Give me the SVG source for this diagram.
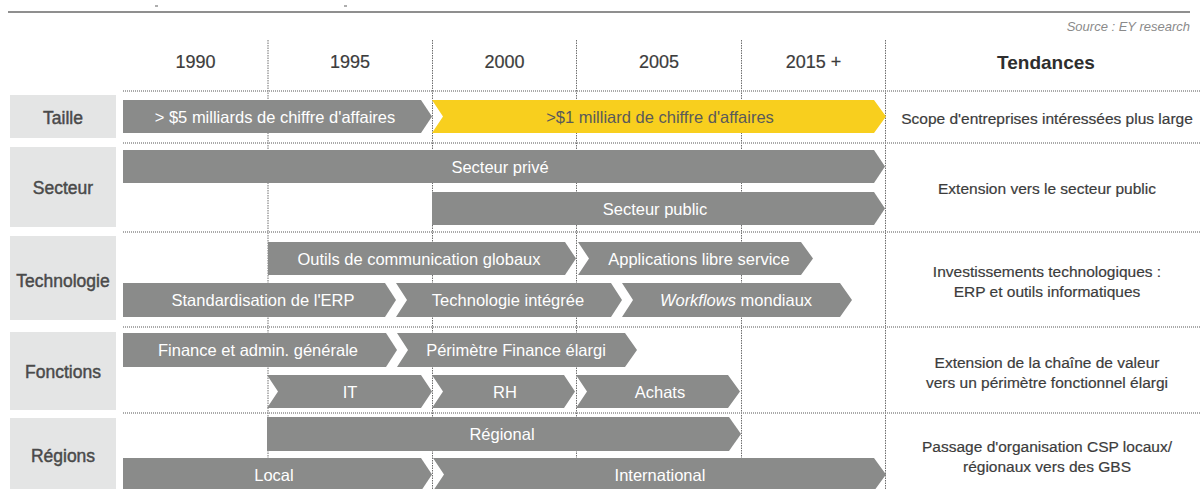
<svg xmlns="http://www.w3.org/2000/svg" width="1201" height="489" viewBox="0 0 1201 489">
<style>
text{font-family:"Liberation Sans",Arial,sans-serif}
.bg{fill:#ffffff}
.grid{stroke:#6e6e6e;stroke-width:1;stroke-dasharray:1.5 1;fill:none}
.sep{stroke:#8f8f8f;stroke-width:1.6;stroke-dasharray:1 1;fill:none}
.lbl{fill:#e4e5e5}
.lt{font-size:17.5px;fill:#4a4a4a;stroke:#4a4a4a;stroke-width:0.45;text-anchor:middle}
.yr{font-size:18px;fill:#3c3c3c;stroke:#3c3c3c;stroke-width:0.2;text-anchor:middle}
.tend{font-size:19px;fill:#2e2e2e;text-anchor:middle;font-weight:bold}
.ar{fill:#8a8b8a}
.ay{fill:#f8cf1e}
.at{font-size:16.5px;fill:#ffffff;text-anchor:middle}
.aty{font-size:16.5px;fill:#5a5a5a;text-anchor:middle}
.rt{font-size:15.5px;fill:#3c3c3c;stroke:#3c3c3c;stroke-width:0.2;text-anchor:middle}
.src{font-size:13px;fill:#8a8a8a;text-anchor:end;font-style:italic}
</style>
<rect class="bg" x="0" y="0" width="1201" height="489"/>

<g id="frame">
<line x1="8" y1="12" x2="1190" y2="12" stroke="#8f8f8f" stroke-width="1.8"/>
<line x1="155" y1="6" x2="158" y2="6" stroke="#777" stroke-width="1.2"/>
<line x1="344" y1="6" x2="347" y2="6" stroke="#777" stroke-width="1.2"/>
<text class="src" x="1190" y="31">Source : EY research</text>
</g>

<g id="grid">
<line class="grid" x1="268" y1="40" x2="268" y2="489"/>
<line class="grid" x1="432.5" y1="40" x2="432.5" y2="489"/>
<line class="grid" x1="576.5" y1="40" x2="576.5" y2="489"/>
<line class="grid" x1="741.5" y1="40" x2="741.5" y2="489"/>
<line class="grid" x1="885.5" y1="40" x2="885.5" y2="489"/>
<line class="sep" x1="123" y1="91" x2="1201" y2="91"/>
<line class="sep" x1="123" y1="143" x2="1201" y2="143"/>
<line class="sep" x1="123" y1="232" x2="1201" y2="232"/>
<line class="sep" x1="123" y1="327" x2="1201" y2="327"/>
<line class="sep" x1="123" y1="413" x2="1201" y2="413"/>
</g>

<g id="header">
<text class="yr" x="195.5" y="67.5">1990</text>
<text class="yr" x="350" y="67.5">1995</text>
<text class="yr" x="504.5" y="67.5">2000</text>
<text class="yr" x="659" y="67.5">2005</text>
<text class="yr" x="813.5" y="67.5">2015 +</text>
<text class="tend" x="1046" y="69">Tendances</text>
</g>

<g id="row-taille">
<rect class="lbl" x="10" y="95" width="106" height="43"/>
<text class="lt" x="63" y="124">Taille</text>
</g>
<g id="row-secteur">
<rect class="lbl" x="10" y="147" width="106" height="80"/>
<text class="lt" x="63" y="194">Secteur</text>
</g>
<g id="row-technologie">
<rect class="lbl" x="10" y="236" width="106" height="84"/>
<text class="lt" x="63" y="287">Technologie</text>
</g>
<g id="row-fonctions">
<rect class="lbl" x="10" y="332" width="106" height="78"/>
<text class="lt" x="63" y="378">Fonctions</text>
</g>
<g id="row-regions">
<rect class="lbl" x="10" y="418" width="106" height="71"/>
<text class="lt" x="63" y="462">Régions</text>
</g>

<g id="arrow-5milliards">
<polygon class="ar" points="123,100 421,100 432,116.5 421,133 123,133"/>
<text class="at" x="275" y="122.5">&gt; $5 milliards de chiffre d'affaires</text>
</g>
<g id="arrow-1milliard">
<polygon class="ay" points="432,100 874,100 886,116.5 874,133 432,133 443,116.5"/>
<text class="aty" x="660" y="122.5">&gt;$1 milliard de chiffre d'affaires</text>
</g>
<g id="arrow-prive">
<polygon class="ar" points="123,150 874,150 885,166.5 874,183 123,183"/>
<text class="at" x="500" y="172.5">Secteur privé</text>
</g>
<g id="arrow-public">
<polygon class="ar" points="432,192 874,192 885,208.5 874,225 432,225"/>
<text class="at" x="655" y="214.5">Secteur public</text>
</g>
<g id="arrow-outils">
<polygon class="ar" points="268,242 565,242 576,258.5 565,275 268,275"/>
<text class="at" x="419" y="264.5">Outils de communication globaux</text>
</g>
<g id="arrow-applications">
<polygon class="ar" points="578,242 801,242 813,258.5 801,275 578,275 589,258.5"/>
<text class="at" x="699" y="264.5">Applications libre service</text>
</g>
<g id="arrow-erp">
<polygon class="ar" points="123,283 385,283 396,300 385,317 123,317"/>
<text class="at" x="263" y="306">Standardisation de l'ERP</text>
</g>
<g id="arrow-integree">
<polygon class="ar" points="396,283 611,283 622,300 611,317 396,317 407,300"/>
<text class="at" x="508" y="306">Technologie intégrée</text>
</g>
<g id="arrow-workflows">
<polygon class="ar" points="622,283 840,283 852,300 840,317 622,317 633,300"/>
<text class="at" x="736" y="306"><tspan font-style="italic">Workflows</tspan> mondiaux</text>
</g>
<g id="arrow-finance">
<polygon class="ar" points="123,333 386,333 397,350 386,367 123,367"/>
<text class="at" x="258" y="356">Finance et admin. générale</text>
</g>
<g id="arrow-perimetre">
<polygon class="ar" points="397,333 625,333 637,350 625,367 397,367 408,350"/>
<text class="at" x="516" y="356">Périmètre Finance élargi</text>
</g>
<g id="arrow-it">
<polygon class="ar" points="267,375 421,375 432,391.5 421,408 267,408 278,391.5"/>
<text class="at" x="350" y="397.5">IT</text>
</g>
<g id="arrow-rh">
<polygon class="ar" points="432,375 564,375 575,391.5 564,408 432,408 443,391.5"/>
<text class="at" x="505" y="397.5">RH</text>
</g>
<g id="arrow-achats">
<polygon class="ar" points="576,375 728,375 740,391.5 728,408 576,408 587,391.5"/>
<text class="at" x="660" y="397.5">Achats</text>
</g>
<g id="arrow-regional">
<polygon class="ar" points="267,417 729,417 741,434 729,451 267,451"/>
<text class="at" x="502" y="440">Régional</text>
</g>
<g id="arrow-local">
<polygon class="ar" points="123,458 421,458 432,474.5 421,491 123,491"/>
<text class="at" x="274" y="480.5">Local</text>
</g>
<g id="arrow-international">
<polygon class="ar" points="433,458 874,458 886,474.5 874,491 433,491 444,474.5"/>
<text class="at" x="660" y="480.5">International</text>
</g>

<g id="tendances">
<text class="rt" x="1047" y="123.5">Scope d'entreprises intéressées plus large</text>
<text class="rt" x="1047" y="193.5">Extension vers le secteur public</text>
<text class="rt" x="1047" y="276.5">Investissements technologiques :</text>
<text class="rt" x="1047" y="296.5">ERP et outils informatiques</text>
<text class="rt" x="1047" y="367.5">Extension de la chaîne de valeur</text>
<text class="rt" x="1047" y="387.5">vers un périmètre fonctionnel élargi</text>
<text class="rt" x="1047" y="451.5">Passage d'organisation CSP locaux/</text>
<text class="rt" x="1047" y="471.5">régionaux vers des GBS</text>
</g>
<g id="connectors"/>
</svg>
